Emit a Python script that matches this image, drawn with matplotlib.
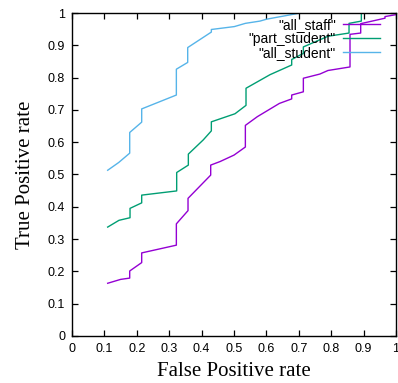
import matplotlib
matplotlib.use("Agg")
from matplotlib import pyplot as plt
import numpy as np

# ROC points (false positive rate, true positive rate)
staff_fpr = [0.110, 0.150, 0.178, 0.178, 0.215, 0.215, 0.322, 0.322, 0.358, 0.358,
             0.428, 0.428, 0.457, 0.500, 0.535, 0.535, 0.572, 0.640, 0.678, 0.678,
             0.714, 0.714, 0.765, 0.790, 0.858, 0.858, 0.891, 0.891, 0.966, 0.966, 1.0]
staff_tpr = [0.163, 0.175, 0.179, 0.201, 0.227, 0.257, 0.281, 0.347, 0.388, 0.426,
             0.498, 0.529, 0.540, 0.560, 0.585, 0.652, 0.679, 0.720, 0.734, 0.746,
             0.756, 0.798, 0.811, 0.822, 0.833, 0.934, 0.938, 0.967, 0.984, 0.989, 0.995]

part_fpr = [0.110, 0.145, 0.179, 0.179, 0.215, 0.215, 0.323, 0.323, 0.359, 0.359,
            0.405, 0.430, 0.430, 0.503, 0.537, 0.537, 0.611, 0.678, 0.678, 0.714,
            0.714, 0.790, 0.855, 0.855, 0.893, 0.893, 1.0]
part_tpr = [0.337, 0.358, 0.366, 0.395, 0.412, 0.436, 0.449, 0.506, 0.529, 0.563,
            0.607, 0.635, 0.663, 0.688, 0.714, 0.767, 0.809, 0.839, 0.856, 0.875,
            0.895, 0.928, 0.938, 0.968, 0.975, 1.0, 1.0]

stud_fpr = [0.110, 0.144, 0.178, 0.178, 0.215, 0.215, 0.322, 0.322, 0.357, 0.357,
            0.430, 0.430, 0.501, 0.535, 0.580, 0.601, 0.704, 1.0]
stud_tpr = [0.513, 0.537, 0.566, 0.630, 0.662, 0.703, 0.746, 0.826, 0.847, 0.893,
            0.941, 0.949, 0.958, 0.968, 0.975, 0.981, 1.0, 1.0]

labels = ['"all_staff"', '"part_student"', '"all_student"']
colors = ['#9400d3', '#009e73', '#56b4e9']
ticks = np.arange(0, 1.01, 0.1)
tick_labels = ['0', '0.1', '0.2', '0.3', '0.4', '0.5', '0.6', '0.7', '0.8', '0.9', '1']

fig = plt.figure(figsize=(3.98, 3.83), dpi=100)
ax = fig.add_axes([0.181, 0.123, 0.814, 0.843])

ax.plot(staff_fpr, staff_tpr, color=colors[0], lw=1.0, label=labels[0])
ax.plot(part_fpr, part_tpr, color=colors[1], lw=1.0, label=labels[1])
ax.plot(stud_fpr, stud_tpr, color=colors[2], lw=1.0, label=labels[2])

ax.set_xlim(0, 1)
ax.set_ylim(0, 1)
ax.set_xticks(ticks)
ax.set_yticks(ticks)
ax.set_xticklabels(tick_labels)
ax.set_yticklabels(tick_labels)
ax.tick_params(direction='in', length=4, width=0.9, top=True, right=True, labelsize=9)
ax.tick_params(axis='x', pad=5)
ax.tick_params(axis='y', pad=5)
for lab in ax.get_xticklabels() + ax.get_yticklabels():
    lab.set_family('Liberation Sans')
for s in ax.spines.values():
    s.set_linewidth(1.0)

ax.set_xlabel('False Positive rate', family='Liberation Serif', fontsize=15, labelpad=5)
ax.set_ylabel('True Positive rate', family='Liberation Serif', fontsize=15, labelpad=9)

leg = ax.legend(loc='upper right', bbox_to_anchor=(0.951, 0.985), markerfirst=False,
                frameon=False, borderpad=0, borderaxespad=0, handlelength=2.7,
                handletextpad=0.5, labelspacing=0.0,
                prop={'family': 'Liberation Sans', 'size': 10})

fig.savefig('out.png', dpi=100)
